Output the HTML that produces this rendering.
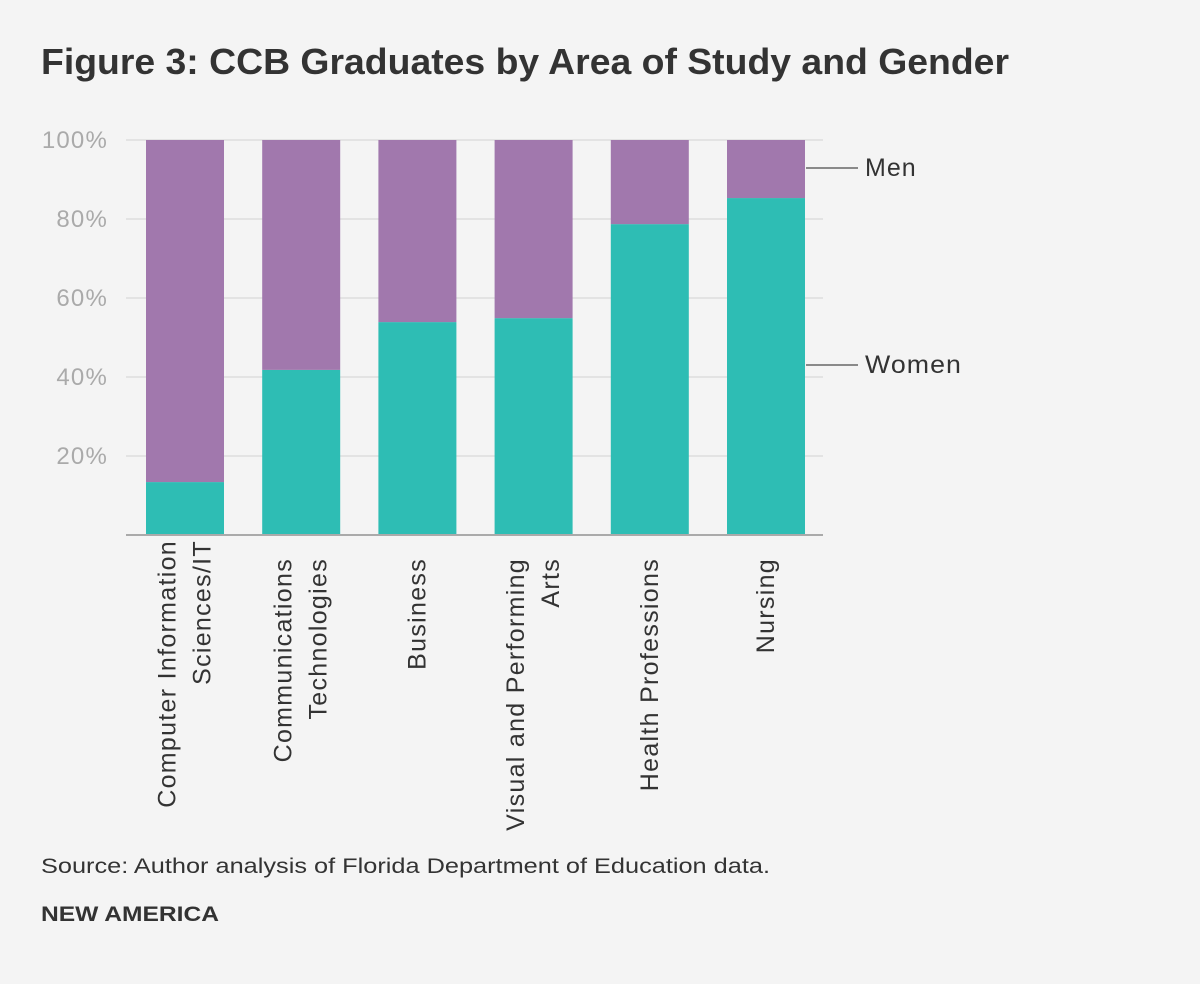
<!DOCTYPE html>
<html><head><meta charset="utf-8"><style>
body{margin:0;background:#f4f4f4;}
svg{display:block;font-family:"Liberation Sans",sans-serif;}
</style></head><body>
<svg id="chart" width="1200" height="984" viewBox="0 0 1200 984">
<rect width="1200" height="984" fill="#f4f4f4"/>
<text x="41" y="74" font-size="36" font-weight="bold" fill="#333" textLength="968" lengthAdjust="spacingAndGlyphs">Figure 3: CCB Graduates by Area of Study and Gender</text>
<g id="grid"></g><g id="bars"></g><g id="xlabels"></g>
<line x1="806" y1="168" x2="858" y2="168" stroke="#666" stroke-width="1.5"/>
<text x="865" y="176" font-size="25" fill="#333" letter-spacing="1">Men</text>
<line x1="806" y1="365" x2="858" y2="365" stroke="#666" stroke-width="1.5"/>
<text x="865" y="373" font-size="25" fill="#333" letter-spacing="1" textLength="97" lengthAdjust="spacingAndGlyphs">Women</text>
<text x="41" y="873" font-size="21" fill="#333" textLength="729" lengthAdjust="spacingAndGlyphs">Source: Author analysis of Florida Department of Education data.</text>
<text x="41" y="921" font-size="21" font-weight="bold" fill="#333" textLength="178" lengthAdjust="spacingAndGlyphs">NEW AMERICA</text>
</svg>
<script>
const categories=[["Computer Information","Sciences/IT"],["Communications","Technologies"],["Business"],["Visual and Performing","Arts"],["Health Professions"],["Nursing"]];
const women=[13.4,41.8,53.9,54.9,78.7,85.3];
const men=[86.6,58.2,46.1,45.1,21.3,14.7];
const yTicks=[20,40,60,80,100];
const tickLabels=["20%","40%","60%","80%","100%"];
const NS="http://www.w3.org/2000/svg";
const y=v=>535-v*3.95;
const x=i=>146+i*116.2;
const bw=78;
function mk(t,a,p){const e=document.createElementNS(NS,t);for(const k in a)e.setAttribute(k,a[k]);p.appendChild(e);return e;}
const grid=document.getElementById('grid');
yTicks.forEach((v,i)=>{
 const l=mk('line',{x1:126,x2:823,y1:y(v),y2:y(v),stroke:'#ddd','stroke-width':1.5},grid);
 
 
 const t=mk('text',{x:108,y:y(v)+8,'font-size':24,fill:'#aaa','text-anchor':'end','letter-spacing':'1.2'},grid);
 t.textContent=tickLabels[i];
 
 
});
const bars=document.getElementById('bars');
women.forEach((w,i)=>{
 const a=mk('rect',{x:x(i),y:y(w),width:bw,height:y(0)-y(w),fill:'#2ebdb4'},bars);
 
 
 const b=mk('rect',{x:x(i),y:y(w+men[i]),width:bw,height:y(w)-y(w+men[i]),fill:'#a178ad'},bars);
 
 
});
const ax=mk('line',{x1:126,x2:823,y1:535,y2:535,stroke:'#aaa','stroke-width':2},bars);


const xl=document.getElementById('xlabels');
categories.forEach((c,i)=>{
 const cx=x(i)+bw/2;
 const n=c.length;
 const top=i===0?540:558;
 c.forEach((line,j)=>{
  const lx=cx+(j-(n-1)/2)*35+8;
  const t=mk('text',{x:0,y:0,'font-size':25,fill:'#333','text-anchor':'end','letter-spacing':'1.3',transform:`translate(${lx},${top}) rotate(-90)`},xl);
  t.textContent=line;
  
  
 });
});
</script>
</body></html>
